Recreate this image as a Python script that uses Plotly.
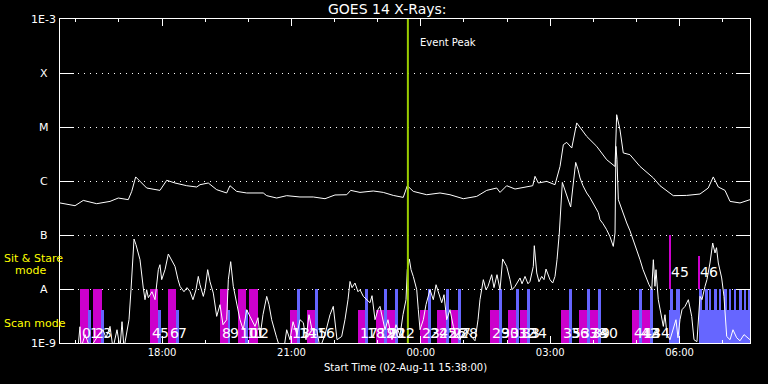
import numpy as np
import pandas as pd
import plotly.graph_objects as go

START = pd.Timestamp("2011-08-02 15:38:00")
END = pd.Timestamp("2011-08-03 07:38:00")
EVENT_PEAK_MIN = 484  # minutes after start

# GOES 14 long channel (1-8 A), minutes after start, W/m^2
long_min = [0, 20.9, 32.4, 51.1, 69.6, 81.1, 95.0, 99.8, 105.3, 113.7, 120.6, 139.1, 148.5, 160.0,
            176.3, 190.2, 194.8, 206.3, 218.0, 231.9, 236.5, 245.8, 259.8, 282.8, 287.6, 301.5,
            315.4, 333.9, 352.4, 368.7, 382.6, 398.9, 404.5, 417.4, 435.9, 449.8, 463.7, 477.6,
            483.2, 491.5, 510.2, 528.7, 542.6, 561.1, 579.8, 593.7, 607.6, 612.2, 621.5, 633.1,
            649.3, 657.7, 660.9, 665.5, 677.2, 688.7, 695.7, 700.3, 705.0, 712.0, 718.9, 732.8,
            746.7, 760.6, 772.2, 774.5, 779.1, 783.7, 793.0, 807.0, 825.5, 834.8, 853.3, 871.9,
            890.4, 901.9, 908.9, 915.9, 925.2, 932.2, 946.1, 960.0]
long_flux = [3.92e-7, 3.49e-7, 4.37e-7, 3.80e-7, 4.19e-7, 4.84e-7, 4.51e-7, 6.42e-7, 1.19e-6, 9.18e-7,
             7.42e-7, 6.70e-7, 1.03e-6, 9.18e-7, 8.18e-7, 7.74e-7, 8.54e-7, 9.18e-7, 6.90e-7, 6.00e-7,
             8.18e-7, 6.42e-7, 6.00e-7, 6.00e-7, 5.35e-7, 4.84e-7, 5.35e-7, 5.06e-7, 5.06e-7, 4.70e-7,
             5.51e-7, 5.57e-7, 6.70e-7, 6.15e-7, 6.53e-7, 6.15e-7, 5.41e-7, 4.97e-7, 8.18e-7, 6.42e-7,
             5.57e-7, 6.00e-7, 5.57e-7, 4.70e-7, 5.19e-7, 6.70e-7, 7.42e-7, 6.15e-7, 8.18e-7, 7.11e-7,
             7.74e-7, 8.18e-7, 1.22e-6, 9.18e-7, 9.83e-7, 8.54e-7, 1.86e-6, 4.70e-6, 5.19e-6, 4.08e-6,
             1.19e-5, 6.70e-6, 4.38e-6, 2.48e-6, 1.86e-6, 1.69e-5, 8.91e-6, 3.31e-6, 3.07e-6, 1.86e-6,
             1.14e-6, 8.18e-7, 5.35e-7, 5.41e-7, 5.74e-7, 7.42e-7, 1.19e-6, 7.74e-7, 6.70e-7, 4.19e-7,
             3.92e-7, 4.51e-7]

# GOES 14 short channel (0.5-4 A)
short_min = [25.0, 27.8, 29.2, 34.8, 37.6, 41.7, 55.7, 59.8, 64.0, 69.6, 73.7, 79.3, 83.5, 86.3, 89.0,
             91.8, 96.0, 98.8, 103.0, 105.7, 111.3, 115.9, 118.3, 120.6, 122.9, 128.0, 132.2, 136.8,
             139.1, 141.5, 146.1, 150.7, 155.8, 160.0, 164.2, 167.0, 172.5, 176.7, 180.9, 185.0,
             189.2, 192.4, 194.8, 199.4, 201.7, 205.5, 208.7, 213.3, 218.0, 222.6, 226.8, 231.9,
             234.2, 237.5, 241.1, 245.8, 250.4, 255.0, 259.8, 264.3, 271.3, 275.5, 278.3, 282.4,
             287.6, 290.8, 294.5, 301.5, 306.1, 311.7, 315.4, 320.0, 324.2, 329.7, 333.9, 338.5,
             342.3, 346.4, 350.6, 357.2, 361.7, 368.7, 375.7, 380.2, 385.4, 391.9, 396.5, 400.7,
             403.5, 406.3, 410.4, 414.6, 417.4, 422.0, 427.1, 431.3, 434.1, 438.3, 442.4, 445.2,
             452.2, 456.3, 461.9, 467.5, 473.0, 477.2, 481.4, 483.2, 486.0, 488.4, 491.5, 496.3,
             498.5, 500.9, 505.5, 509.2, 514.8, 519.4, 523.2, 526.3, 531.1, 534.3, 538.0, 542.6,
             547.2, 551.0, 556.5, 563.5, 570.4, 577.4, 581.6, 584.3, 589.0, 592.7, 595.5, 600.6,
             603.8, 608.0, 612.2, 615.9, 621.5, 626.1, 628.9, 633.1, 637.3, 640.0, 642.8, 647.0,
             651.1, 653.9, 658.5, 659.9, 663.3, 666.4, 670.2, 673.4, 676.2, 679.0, 681.7, 685.5,
             688.7, 691.5, 694.7, 698.9, 701.3, 705.0, 708.2, 710.5, 714.2, 717.5, 720.7, 723.5,
             727.6, 732.8, 737.4, 744.3, 749.0, 751.3, 755.5, 760.6, 765.2, 769.8, 772.2, 773.5,
             774.9, 776.8, 781.5, 784.7, 788.5, 793.0, 797.6, 801.4, 807.0, 811.2, 816.3, 819.5,
             823.3, 825.5, 827.8, 829.2, 832.4, 834.8, 839.4, 841.7, 844.5, 848.7, 852.9, 857.0,
             859.8, 862.6, 865.4, 869.6, 874.2, 876.5, 878.9, 882.1, 886.2, 890.4, 893.2, 897.4,
             900.1, 904.3, 908.1, 911.3, 913.4, 915.9, 918.3, 920.6, 923.8, 927.6, 932.2, 936.3,
             941.5, 946.1, 951.7, 957.7, 960.0]
short_flux = [8e-10, 2.0e-9, 8e-10, 1.43e-9, 1.15e-9, 8e-10, 1.55e-9, 1.76e-9, 1.25e-9, 2.03e-9, 8e-10,
              1.76e-9, 8e-10, 2.48e-9, 8e-10, 1.37e-9, 2.7e-9, 9.7e-9, 8.43e-8, 6.61e-8, 3.49e-8,
              1.04e-8, 6.34e-9, 9.7e-9, 6.9e-9, 8.9e-9, 6.34e-9, 2.28e-8, 2.82e-8, 1.49e-8, 2.28e-8,
              4.45e-8, 3.21e-8, 2.62e-8, 1.49e-8, 1.12e-8, 8.9e-9, 1.06e-8, 9.0e-9, 6.34e-9, 9.7e-9,
              1.71e-8, 1.2e-8, 7.3e-9, 9.7e-9, 2.28e-8, 1.36e-8, 8.4e-9, 3.11e-9, 5.12e-9, 2.18e-9,
              2.7e-9, 1.49e-8, 3.21e-8, 1.12e-8, 5.57e-9, 2.7e-9, 1.76e-9, 4.14e-9, 3.11e-9, 2.03e-9,
              2.94e-9, 1.32e-9, 3.34e-9, 7.3e-9, 5.12e-9, 2.7e-9, 1.25e-9, 8e-10, 8e-10, 1.76e-9,
              1.15e-9, 2.48e-9, 1.43e-9, 2.7e-9, 2.38e-9, 1.15e-9, 3.34e-9, 1.76e-9, 1.76e-9, 8e-10,
              1.43e-9, 3.34e-9, 4.77e-9, 1.15e-9, 1.32e-9, 2.7e-9, 6.34e-9, 1.38e-8, 1.06e-8, 1.29e-8,
              8.9e-9, 9.7e-9, 7.3e-9, 6.34e-9, 5.57e-9, 7.52e-9, 2.7e-9, 4.14e-9, 4.77e-9, 1.76e-9,
              2.7e-9, 1.15e-9, 2.18e-9, 1.37e-9, 3.34e-9, 6.34e-9, 2.28e-8, 3.6e-8, 2.28e-8, 1.71e-8,
              9.7e-9, 4.14e-9, 1.76e-9, 2.7e-9, 5.12e-9, 9.7e-9, 6.34e-9, 1.2e-8, 9.0e-9, 5.57e-9,
              7.84e-9, 2.7e-9, 4.14e-9, 2.03e-9, 1.43e-9, 1.15e-9, 1.76e-9, 1.43e-9, 1.1e-9, 2.7e-9,
              6.34e-9, 1.49e-8, 9.7e-9, 1.12e-8, 1.84e-8, 1.06e-8, 1.84e-8, 9.7e-9, 3.6e-8, 2.62e-8,
              1.49e-8, 9.7e-9, 1.12e-8, 1.36e-8, 1.6e-8, 1.25e-8, 1.71e-8, 1.25e-8, 1.38e-8, 2.62e-8,
              6.34e-8, 1.98e-8, 1.36e-8, 1.71e-8, 1.49e-8, 2.34e-8, 1.84e-8, 1.49e-8, 1.29e-8, 1.71e-8,
              3.49e-8, 1.09e-7, 9.42e-7, 7.52e-7, 5.19e-7, 3.96e-7, 3.3e-7, 9.18e-7, 2.21e-6, 1.63e-6,
              1.14e-6, 8.18e-7, 6.0e-7, 4.91e-7, 3.39e-7, 2.6e-7, 1.92e-7, 1.62e-7, 1.25e-7, 9.3e-8,
              6.15e-8, 1.09e-7, 4.38e-6, 2.48e-6, 4.51e-7, 2.94e-7, 2.38e-7, 1.67e-7, 1.2e-7, 8.18e-8,
              5.82e-8, 3.49e-8, 2.28e-8, 1.49e-8, 1.2e-8, 9.7e-9, 3.49e-8, 1.12e-8, 2.28e-8, 6.34e-9,
              4.14e-9, 2.03e-9, 3.34e-9, 1.43e-9, 1.15e-9, 1.76e-9, 2.7e-9, 1.25e-9, 2.7e-9, 4.14e-9,
              4.77e-9, 6.34e-9, 4.14e-9, 3.11e-9, 1.15e-9, 1.06e-9, 7.3e-9, 6.34e-9, 1.12e-8, 1.49e-8,
              3.03e-8, 7.11e-8, 4.65e-8, 5.82e-8, 3.03e-8, 2.28e-8, 1.6e-8, 7.3e-9, 1.32e-9, 1.15e-9,
              1.76e-9, 1.25e-9, 1.1e-9, 1.43e-9, 1.25e-9, 1.15e-9]

# Numbered observations (minutes after start): 'S' = sit & stare (magenta), 'R' = raster/scan (blue)
obs_start = [28, 39, 46, 57, 125, 136, 150, 161, 223, 234, 248, 257, 263, 320, 330, 344, 355, 415,
             424, 440, 451, 455, 466, 501, 512, 525, 537, 544, 554, 598, 611, 623, 634, 640, 650,
             697, 708, 722, 733, 737, 749, 796, 806, 808, 821, 847, 888]
obs_end = [40, 43, 58, 61, 136, 140.5, 161, 165.5, 234, 237, 259, 261.5, 275.5, 331, 334, 356, 359,
           426, 428.5, 451, 455, 466, 470, 513, 516, 537, 541, 554, 558, 611, 615, 636, 638.5, 650,
           654, 710, 712, 735, 737.5, 750, 752.5, 807, 810, 821, 825, 850, 890.5]
obs_kind = ['S', 'R', 'S', 'R', 'S', 'R', 'S', 'R', 'S', 'R', 'S', 'R', 'S', 'S', 'R', 'S', 'R',
            'S', 'R', 'S', 'R', 'S', 'R', 'S', 'R', 'S', 'R', 'S', 'R', 'S', 'R', 'S', 'R', 'S',
            'R', 'S', 'R', 'S', 'R', 'S', 'R', 'S', 'R', 'S', 'R', 'S', 'S']
obs_top = [1e-8, 4.14e-9, 1e-8, 4.14e-9, 1e-8, 4.14e-9, 1e-8, 4.14e-9, 1e-8, 4.14e-9, 1e-8, 4.14e-9,
           1e-8, 4.14e-9, 1e-8, 4.14e-9, 1e-8, 4.14e-9, 1e-8, 4.14e-9, 1e-8, 4.14e-9, 1e-8,
           4.14e-9, 1e-8, 4.14e-9, 1e-8, 4.14e-9, 1e-8, 4.14e-9, 1e-8, 4.14e-9, 1e-8, 4.14e-9, 1e-8,
           4.14e-9, 1e-8, 4.14e-9, 1e-8, 4.14e-9, 1e-8, 4.14e-9, 1e-8, 4.14e-9, 1e-8, 1e-7, 4.14e-8]
obs_base = [1e-9] * 45 + [1e-8, 1e-8]

# Un-numbered scan blocks at the end of the interval
scan_start = [847, 848.7, 857.5, 889, 889, 897.4, 903, 910, 917, 924, 931, 938, 944.7, 951.6, 957.2]
scan_end = [862.6, 852.9, 862.6, 960, 893.2, 900.9, 906.4, 913.4, 920.3, 927.3, 934.2, 941.2,
            948.2, 955.1, 960]
scan_top = [4.14e-9, 1e-8, 1e-8, 4.14e-9, 1e-8, 1e-8, 1e-8, 1e-8, 1e-8, 1e-8, 1e-8, 1e-8, 1e-8,
            1e-8, 1e-8]

level_vals = [1e-9, 1e-8, 1e-7, 1e-6, 1e-5, 1e-4, 1e-3]
level_text = ["1E-9", "A", "B", "C", "M", "X", "1E-3"]

MAGENTA = "#CC00CC"
BLUE = "#6666FF"
FONT = "DejaVu Sans"


def to_time(mins):
    return START + pd.to_timedelta(np.asarray(mins, dtype=float), unit="min")


fig = go.Figure()

obs_start_a = np.array(obs_start, float)
obs_end_a = np.array(obs_end, float)
obs_top_a = np.array(obs_top, float)
obs_base_a = np.array(obs_base, float)
kind_a = np.array(obs_kind)

for kind, color in (("S", MAGENTA), ("R", BLUE)):
    m = kind_a == kind
    s, e = obs_start_a[m], obs_end_a[m]
    fig.add_trace(go.Bar(
        x=to_time((s + e) / 2), y=obs_top_a[m] - obs_base_a[m], base=obs_base_a[m],
        width=(e - s) * 60000, marker=dict(color=color, line=dict(width=0)),
        showlegend=False, hoverinfo="skip"))

ss, se = np.array(scan_start, float), np.array(scan_end, float)
fig.add_trace(go.Bar(
    x=to_time((ss + se) / 2), y=np.array(scan_top) - 1e-9, base=[1e-9] * len(ss),
    width=(se - ss) * 60000, marker=dict(color=BLUE, line=dict(width=0)),
    showlegend=False, hoverinfo="skip"))

fig.add_trace(go.Scatter(x=to_time(short_min), y=short_flux, mode="lines",
                         line=dict(color="white", width=1), showlegend=False, hoverinfo="skip"))
fig.add_trace(go.Scatter(x=to_time(long_min), y=long_flux, mode="lines",
                         line=dict(color="white", width=1), showlegend=False, hoverinfo="skip"))

annotations = []
# numbered observation labels
for i, (s, b) in enumerate(zip(obs_start, obs_base)):
    ylab = np.log10(b) + 0.32 if b > 1e-9 else -8.81
    annotations.append(dict(x=to_time([s])[0], y=ylab, xref="x", yref="y", text=str(i),
                            showarrow=False, xanchor="left", yanchor="middle",
                            font=dict(family=FONT, size=14, color="white")))
# y level labels
for v, t in zip(level_vals, level_text):
    annotations.append(dict(x=-0.0232, y=np.log10(v), xref="paper", yref="y", text=t,
                            showarrow=False, xanchor="center", yanchor="middle",
                            font=dict(family=FONT, size=11, color="white")))
annotations += [
    dict(x=0.474, y=1.032, xref="paper", yref="paper", text="GOES 14 X-Rays:", showarrow=False,
         xanchor="center", yanchor="middle", font=dict(family=FONT, size=14, color="white")),
    dict(x=0.5, y=-0.076, xref="paper", yref="paper", text="Start Time (02-Aug-11 15:38:00)",
         showarrow=False, xanchor="center", yanchor="middle",
         font=dict(family=FONT, size=10, color="white")),
    dict(x=0.519, y=0.927, xref="paper", yref="paper", text="Event Peak", showarrow=False,
         xanchor="left", yanchor="middle", font=dict(family=FONT, size=10, color="white")),
    dict(x=-0.0841, y=0.260, xref="paper", yref="paper", text="Sit & Stare", showarrow=False,
         xanchor="left", yanchor="middle", font=dict(family=FONT, size=11, color="#FFFF00")),
    dict(x=-0.0681, y=0.223, xref="paper", yref="paper", text="mode", showarrow=False,
         xanchor="left", yanchor="middle", font=dict(family=FONT, size=11, color="#FFFF00")),
    dict(x=-0.0841, y=0.0596, xref="paper", yref="paper", text="Scan mode", showarrow=False,
         xanchor="left", yanchor="middle", font=dict(family=FONT, size=11, color="#FFFF00")),
]

peak_t = to_time([EVENT_PEAK_MIN])[0]
fig.add_shape(type="line", x0=peak_t, x1=peak_t, y0=0, y1=1, xref="x", yref="paper",
              line=dict(color="#9ACD00", width=2), layer="above")

fig.update_layout(
    width=768, height=384,
    margin=dict(l=60, r=18, t=19, b=41),
    paper_bgcolor="black", plot_bgcolor="black",
    barmode="overlay", bargap=0,
    showlegend=False,
    annotations=annotations,
    font=dict(family=FONT, color="white"),
    xaxis=dict(type="date", range=[START, END], showgrid=False, zeroline=False,
               showline=True, linecolor="white", linewidth=1, mirror="ticks",
               ticks="inside", ticklen=7, tickcolor="white", tickwidth=1,
               tick0="2011-08-02 18:00:00", dtick=3 * 3600 * 1000, tickformat="%H:%M",
               tickfont=dict(family=FONT, size=10, color="white"),
               minor=dict(dtick=3600 * 1000, ticks="inside", ticklen=3, tickcolor="white",
                          showgrid=False)),
    yaxis=dict(type="log", range=[-9, -3], showline=True, linecolor="white", linewidth=1,
               mirror="ticks", ticks="inside", ticklen=14, tickcolor="white", tickwidth=1,
               tickvals=level_vals, showticklabels=False,
               showgrid=True, gridcolor="white", gridwidth=1, griddash="1px,5px",
               zeroline=False),
)

fig.write_html("out.html", config={"displayModeBar": False},
               post_script="document.body.style.margin='0';document.body.style.padding='0';"
                           "document.body.style.background='black';")
